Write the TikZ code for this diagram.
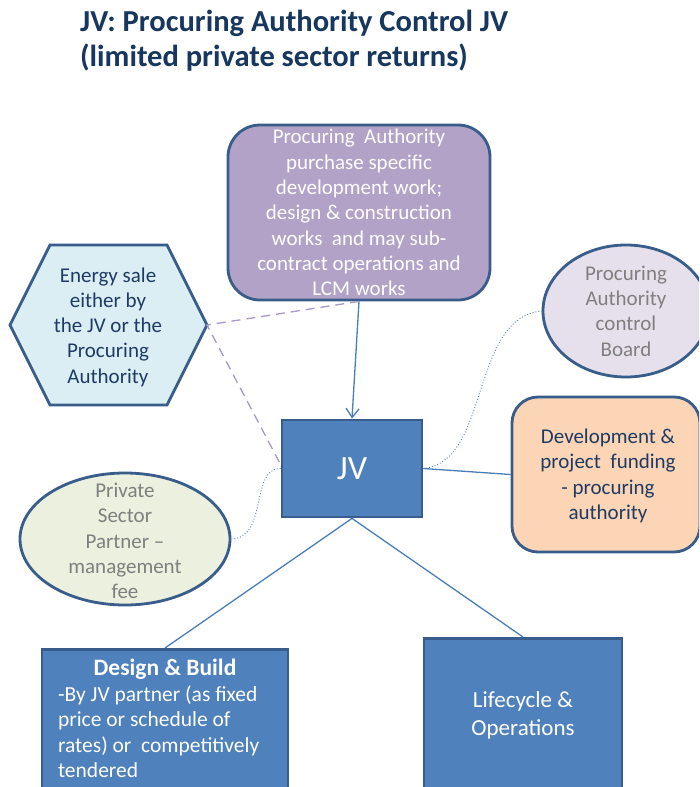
\documentclass[tikz,border=0pt]{standalone}
\usepackage{fontspec}
\setmainfont{Carlito}
\usetikzlibrary{shapes.geometric,arrows.meta}
\definecolor{bord}{HTML}{385D8A}
\definecolor{jvblue}{HTML}{4F81BD}
\definecolor{purp}{HTML}{B3A2C7}
\definecolor{hexfill}{HTML}{DBEEF4}
\definecolor{boardfill}{HTML}{E6E0EC}
\definecolor{orfill}{HTML}{FBD5B5}
\definecolor{privfill}{HTML}{EBF1DE}
\definecolor{connblue}{HTML}{4A7EBB}
\definecolor{darktxt}{HTML}{1F3B64}
\definecolor{titletxt}{HTML}{17375E}
\definecolor{graytxt}{HTML}{7F7F7F}
\definecolor{dashpurp}{HTML}{A898C6}
\tikzset{
  shapebox/.style={draw=bord, line width=2.8pt},
  bodyfont/.style={font=\fontsize{21}{25.3}\selectfont},
  conn/.style={draw=connblue, line width=1.3pt},
  dotconn/.style={draw=connblue, line width=0.9pt, dotted},
  dashconn/.style={draw=dashpurp, line width=1.3pt, dash pattern=on 9pt off 6pt},
  titlefont/.style={font=\fontsize{30.5}{35}\selectfont\bfseries, text=titletxt, inner sep=0pt, anchor=base west},
}
\begin{document}
\begin{tikzpicture}[x=1pt,y=-1pt]
\useasboundingbox (0,0) rectangle (699,787);
\clip (0,0) rectangle (699,787);
\fill[white] (0,0) rectangle (699,787);

% title
\node[titlefont] (title1) at (80,31) {JV: Procuring Authority Control JV};
\node[titlefont] (title2) at (80,66) {(limited private sector returns)};

% purple box
\node[shapebox, fill=purp, rounded corners=32pt, minimum width=262pt,
      minimum height=175pt, text=white, align=flush center, bodyfont] (pa) at (359,212.5)
  {Procuring\ \ Authority\\purchase specific\\development work;\\design \& construction\\works\ \ and may sub-\\contract operations and\\LCM works};

% hexagon
\draw[shapebox, fill=hexfill] (10,325) -- (50,245) -- (167,245) -- (207,325)
  -- (167,405) -- (50,405) -- cycle;
\coordinate (hexR) at (207,325);
\node[align=flush center, text=darktxt, bodyfont] (hex) at (108,327)
  {Energy sale\\either by\\the JV or the\\Procuring\\Authority};

% board ellipse
\node[shapebox, fill=boardfill, ellipse, minimum width=166pt, minimum height=132pt] (board) at (626,311) {};
\node[align=flush center, text=graytxt, bodyfont] (boardtxt) at (626,311)
  {Procuring\\Authority\\control\\Board};

% JV
\node[shapebox, fill=jvblue, minimum width=140pt, minimum height=97pt,
      text=white, font=\fontsize{34}{40}\selectfont] (jv) at (352,468.5) {JV};

% orange box
\node[shapebox, fill=orfill, rounded corners=26pt, minimum width=188pt,
      minimum height=155pt] (orange) at (606,474.5) {};
\node[align=flush center, text=darktxt, bodyfont] (oranget) at (608,476)
  {Development \&\\project\ \ funding\\- procuring\\authority};

% private ellipse
\node[shapebox, fill=privfill, ellipse, minimum width=210pt, minimum height=132pt] (priv) at (125,539) {};
\node[align=flush center, text=graytxt, bodyfont] (privt) at (125,541)
  {Private\\Sector\\Partner --\\management\\fee};

% design & build
\node[shapebox, fill=jvblue, minimum width=246pt, minimum height=172pt,
      anchor=north] (db) at (165,648) {};
\node[anchor=north, inner sep=0pt, text width=214pt, align=flush left, text=white,
      font=\fontsize{21.5}{25.5}\selectfont] (dbt) at (165,659)
  {\makebox[214pt][c]{\fontsize{23.5}{25.5}\selectfont\bfseries Design \& Build}\\-By JV partner (as fixed\\price or schedule of\\rates) or\ \ competitively\\tendered};

% lifecycle
\node[shapebox, fill=jvblue, minimum width=198pt, minimum height=183pt,
      anchor=north] (lc) at (523,637) {};
\node[align=flush center, text=white, font=\fontsize{23}{28}\selectfont] (lct) at (523,715)
  {Lifecycle \&\\Operations};

% connectors
\draw[conn, -{Straight Barb[length=9pt,width=13pt,line width=1.3pt]}] (pa.south) -- (jv.north);
\draw[dashconn] (pa.south) -- (hexR) -- ([yshift=4pt]jv.west);
\draw[dotconn] (jv.east) .. controls (490,462) and (470,318) .. (board.west);
\draw[dotconn] (jv.west) .. controls (250,468) and (268,538) .. (priv.east);
\draw[conn] (jv.east) -- (orange.west);
\draw[conn] (jv.south) -- (db.north);
\draw[conn] (jv.south) -- (lc.north);
\end{tikzpicture}
\end{document}
